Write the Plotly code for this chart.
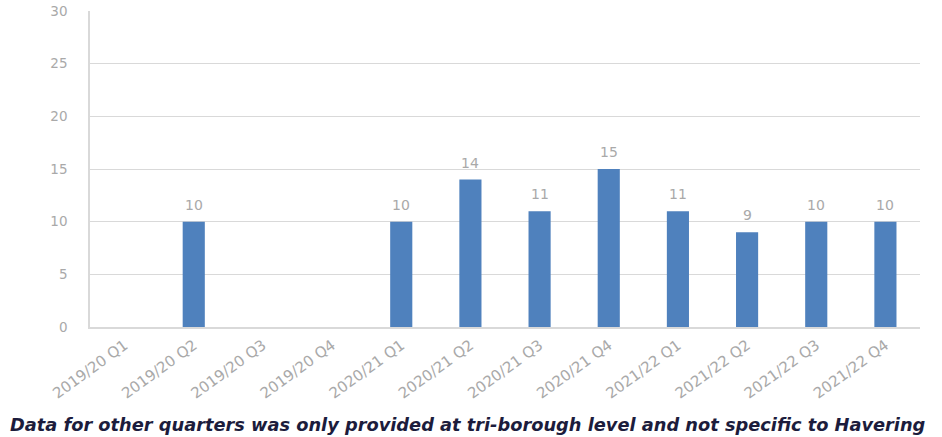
import plotly.graph_objects as go

categories = ["2019/20 Q1", "2019/20 Q2", "2019/20 Q3", "2019/20 Q4",
              "2020/21 Q1", "2020/21 Q2", "2020/21 Q3", "2020/21 Q4",
              "2021/22 Q1", "2021/22 Q2", "2021/22 Q3", "2021/22 Q4"]
values = [None, 10, None, None, 10, 14, 11, 15, 11, 9, 10, 10]
y_ticks = [0, 5, 10, 15, 20, 25, 30]
caption = "Data for other quarters was only provided at tri-borough level and not specific to Havering"

GRAY = "#a9a9a9"

fig = go.Figure()
fig.add_trace(go.Bar(
    x=categories, y=values,
    marker=dict(color="#4f81bd", line=dict(width=0)),
    hoverinfo="x+y",
))

annotations = []
for c, v in zip(categories, values):
    if v is None:
        continue
    annotations.append(dict(
        x=c, y=v, xref="x", yref="y", text=str(v), showarrow=False,
        yanchor="middle", yshift=17,
        font=dict(family="DejaVu Sans", size=14, color=GRAY),
    ))

annotations.append(dict(
    text=caption, xref="paper", yref="paper",
    x=(8 - 90) / 830, y=-(424 - 327) / 316,
    xanchor="left", yanchor="middle", showarrow=False,
    font=dict(family="DejaVu Sans", size=17.8, color="#1c1c3c",
              style="italic", weight="bold"),
))

fig.update_layout(
    width=942, height=437,
    margin=dict(l=90, r=22, t=11, b=110, autoexpand=False),
    plot_bgcolor="white", paper_bgcolor="white",
    bargap=0.68,
    showlegend=False,
    xaxis=dict(
        type="category", automargin=False,
        tickangle=-36,
        tickfont=dict(family="DejaVu Sans", size=15, color=GRAY),
        showline=True, linecolor="#d9d9d9", linewidth=1.5,
        showgrid=False, ticks="", ticklabelstandoff=2,
    ),
    yaxis=dict(
        range=[0, 30], automargin=False,
        tickvals=y_ticks,
        tickfont=dict(family="DejaVu Sans", size=13.5, color=GRAY),
        showgrid=True, gridcolor="#d9d9d9", gridwidth=1.2,
        showline=True, linecolor="#d9d9d9", linewidth=1.5,
        zeroline=False, ticks="", ticklabelstandoff=18,
    ),
    annotations=annotations,
)

fig.write_html("out.html")
